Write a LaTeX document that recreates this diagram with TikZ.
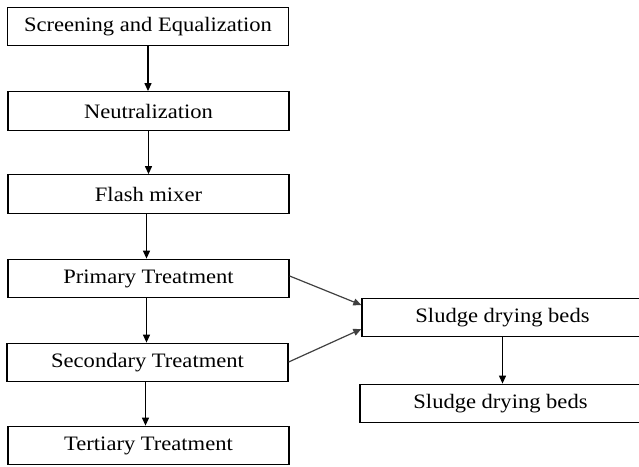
\documentclass[tikz,border=0pt]{standalone}
\usepackage{fontspec}
\setmainfont[FakeStretch=1.1]{Liberation Serif}
\usetikzlibrary{arrows.meta,calc}
\begin{document}
\begin{tikzpicture}[x=1pt,y=-1pt,
  box/.style={draw=black,line width=1.3pt,rectangle,minimum width=281pt,minimum height=38.5pt,inner sep=0pt,
    font=\fontsize{20.5}{24}\selectfont,anchor=center},
  arr/.style={draw=black,line width=1.2pt,-{Triangle[length=8pt,width=7pt]}},
  darr/.style={draw=black!75,line width=1.2pt,-{Triangle[length=8pt,width=7pt]}}]
\useasboundingbox (0,0) rectangle (639,466);
\node[box] (a) at (148,26.5) {Screening and Equalization};
\node[box] (b) at (148.5,111) {Neutralization};
\node[box] (c) at (148.5,194) {Flash mixer};
\node[box] (d) at (148.5,278.5) {Primary Treatment};
\node[box] (e) at (147.5,362.5) {Secondary Treatment};
\node[box] (f) at (148.5,445.5) {Tertiary Treatment};
\node[box] (g) at (502.5,317.5) {Sludge drying beds};
\node[box] (h) at (500.5,403.5) {Sludge drying beds};
\draw[arr] (a.south) -- ($(b.north)+(-0.5,0)$);
\draw[arr] (b.south) -- (c.north);
\draw[arr] ([xshift=-2pt]c.south) -- ([xshift=-2pt]d.north);
\draw[arr] ([xshift=-2pt]d.south) -- ([xshift=-1pt]e.north);
\draw[arr] ([xshift=-2pt]e.south) -- ([xshift=-3pt]f.north);
\draw[arr] (g.south) -- ($(h.north)+(2,0)$);
\draw[darr] ($(d.east)+(0,-2.5)$) -- ($(g.west)+(0,-12.5)$);
\draw[darr] ($(e.east)+(0,-0.5)$) -- ($(g.west)+(0,11.5)$);
\end{tikzpicture}
\end{document}
